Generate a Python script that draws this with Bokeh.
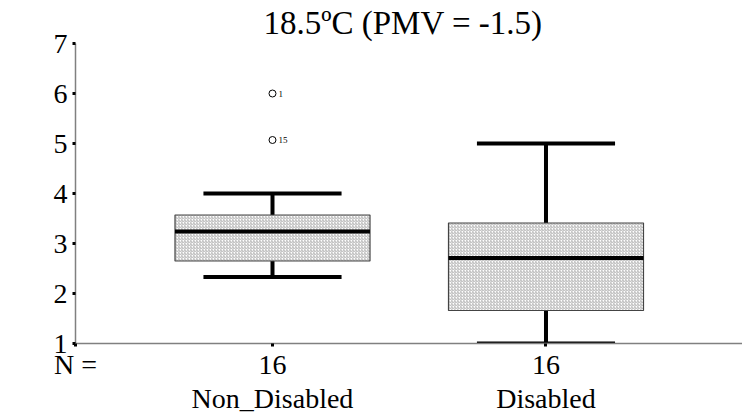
from bokeh.plotting import figure
from bokeh.models import (Range1d, FixedTicker, LinearAxis, CustomJSTickFormatter,
                          ColumnDataSource)
from bokeh.transform import dodge
from bokeh.embed import file_html
from bokeh.resources import INLINE
from bokeh.core.properties import value

# ---- data ----
categories = ["Non_Disabled", "Disabled"]
counts = [16, 16]
lower_whisker = [2.33, 1.0]
q1 = [2.65, 1.66]
median = [3.24, 2.71]
q3 = [3.57, 3.41]
upper_whisker = [4.0, 5.0]
outlier_group = [1, 1]
outlier_values = [6.0, 5.07]
outlier_ids = ["1", "15"]
y_ticks = [1, 2, 3, 4, 5, 6, 7]
title_text = "18.5ºC (PMV = -1.5)"

FONT = "'Liberation Serif'"
xpos = [1, 2]
x_start, x_end = 0.2797, 2.7185
box_w = 0.713
cap_w = 0.505

p = figure(width=742, height=416, output_backend="svg", toolbar_location=None,
           x_range=Range1d(x_start, x_end), y_range=Range1d(1, 7),
           min_border_left=75, min_border_right=0, min_border_top=43,
           min_border_bottom=73, x_axis_location=None)
p.outline_line_color = None
p.grid.visible = False
p.background_fill_color = "white"
p.border_fill_color = "white"

# title
p.title.text = title_text
p.title.align = "left"
p.title.offset = 188
p.title.text_font = FONT
p.title.text_font_size = "33px"
p.title.text_font_style = "normal"
p.title.text_color = "black"
p.title.standoff = 5

# y axis
ya = p.yaxis[0]
ya.ticker = FixedTicker(ticks=y_ticks)
ya.axis_line_color = "#808080"
ya.axis_line_width = 1.5
ya.major_tick_in = 0
ya.major_tick_out = 3
ya.major_tick_line_width = 3
ya.major_tick_line_color = "black"
ya.minor_tick_line_color = None
ya.major_label_text_font = FONT
ya.major_label_text_font_size = "28px"
ya.major_label_text_color = "black"
ya.major_label_standoff = 5

# x axis with N counts
ax1 = LinearAxis(ticker=FixedTicker(ticks=[x_start + 1e-6] + xpos))
ax1.formatter = CustomJSTickFormatter(args=dict(n=counts), code="""
    if (index == 0) { return "N ="; }
    return String(n[index - 1]);
""")
ax1.axis_line_color = "#808080"
ax1.axis_line_width = 1.5
ax1.major_tick_in = 0
ax1.major_tick_out = 3
ax1.major_tick_line_width = 3
ax1.major_tick_line_color = "black"
ax1.minor_tick_line_color = None
ax1.major_label_text_font = FONT
ax1.major_label_text_font_size = "28px"
ax1.major_label_text_color = "black"
ax1.major_label_standoff = 2
p.add_layout(ax1, "below")

# x axis with category names
ax2 = LinearAxis(ticker=FixedTicker(ticks=xpos))
ax2.major_label_overrides = {x: c for x, c in zip(xpos, categories)}
ax2.axis_line_color = None
ax2.major_tick_line_color = None
ax2.minor_tick_line_color = None
ax2.major_tick_out = 0
ax2.major_tick_in = 0
ax2.major_label_text_font = FONT
ax2.major_label_text_font_size = "28px"
ax2.major_label_text_color = "black"
ax2.major_label_standoff = 0
p.add_layout(ax2, "below")

src = ColumnDataSource(dict(x=xpos, lw=lower_whisker, q1=q1, med=median, q3=q3, uw=upper_whisker))

# whisker stems
p.segment(x0="x", y0="q3", x1="x", y1="uw", source=src, line_color="black", line_width=4)
p.segment(x0="x", y0="lw", x1="x", y1="q1", source=src, line_color="black", line_width=4)
# boxes
p.vbar(x="x", width=box_w, bottom="q1", top="q3", source=src,
       fill_color="white", line_color="#444444", line_width=1.2,
       hatch_pattern="/", hatch_scale=3, hatch_color="#a0a0a0", hatch_weight=0.8)
# medians
p.segment(x0=dodge("x", -box_w / 2), y0="med", x1=dodge("x", box_w / 2), y1="med",
          source=src, line_color="black", line_width=4)
# caps
p.segment(x0=dodge("x", -cap_w / 2), y0="uw", x1=dodge("x", cap_w / 2), y1="uw",
          source=src, line_color="black", line_width=4)
p.segment(x0=dodge("x", -cap_w / 2), y0="lw", x1=dodge("x", cap_w / 2), y1="lw",
          source=src, line_color="black", line_width=4)

# outliers
osrc = ColumnDataSource(dict(x=outlier_group, y=outlier_values, t=outlier_ids))
p.scatter(x="x", y="y", source=osrc, marker="circle", size=7, fill_color=None,
          line_color="black", line_width=1)
p.text(x="x", y="y", text="t", source=osrc, x_offset=6, text_baseline="middle",
       text_font=value(FONT), text_font_size="9px", text_color="black")

open("out.html", "w").write(file_html(p, INLINE))
